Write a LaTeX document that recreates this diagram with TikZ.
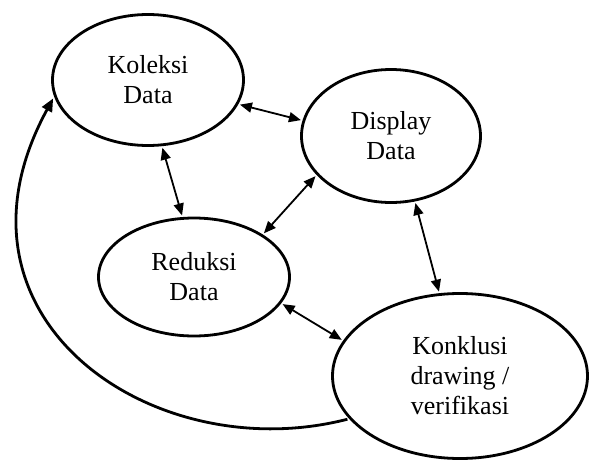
\documentclass[tikz,border=0pt]{standalone}
\usepackage{fontspec}
\setmainfont{Liberation Serif}
\usetikzlibrary{shapes.geometric,arrows.meta}
\begin{document}
\begin{tikzpicture}[x=1pt,y=-1pt,
  stage/.style={ellipse,draw,line width=2.8pt,inner sep=0pt,outer sep=3pt,align=center,
    font=\fontsize{26}{30}\selectfont},
  dbl/.style={line width=1.8pt,{Triangle[length=12pt,width=10pt]}-{Triangle[length=12pt,width=10pt]}},
  back/.style={line width=2.8pt,-{Triangle[length=13pt,width=11pt]}}]
\useasboundingbox (0,0) rectangle (590,461);
\node[stage,minimum width=191pt,minimum height=131pt] (kol) at (148,80) {Koleksi\\Data};
\node[stage,minimum width=179pt,minimum height=133pt] (dis) at (391,136) {Display\\Data};
\node[stage,minimum width=191pt,minimum height=118pt] (red) at (194,277) {Reduksi\\Data};
\node[stage,minimum width=255pt,minimum height=165pt] (kon) at (460,376) {Konklusi\\drawing /\\verifikasi};
\draw[dbl] (kol.-15.6) -- (dis.170.7);
\draw[dbl] (kol.-78.4) -- (red.101.5);
\draw[dbl] (red.32) -- (dis.208.6);
\draw[dbl] (dis.-70) -- (kon.104.4);
\draw[dbl] (red.-17.6) -- (kon.163.7);
\draw[back] (kon.201.8) .. controls +(-194,50) and +(-120,220) .. (kol.191.5);
\end{tikzpicture}
\end{document}
